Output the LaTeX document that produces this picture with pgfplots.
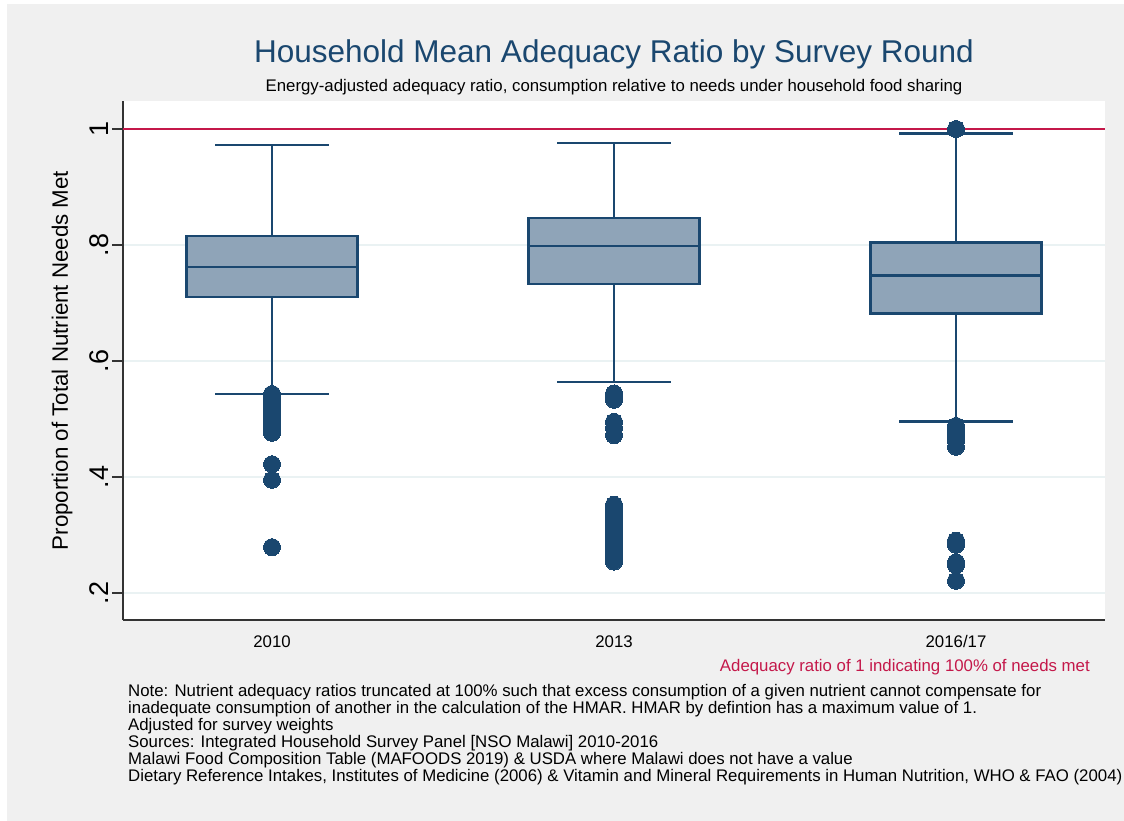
\documentclass[border=0pt]{standalone}
\usepackage{fontspec}
\setmainfont{Liberation Sans}
\usepackage{pgfplots}
\pgfplotsset{compat=1.18}
\usepgfplotslibrary{statistics}
\definecolor{bgc}{HTML}{F0F0F0}
\definecolor{navy}{HTML}{1A476F}
\definecolor{boxf}{HTML}{8FA4B8}
\definecolor{gridc}{HTML}{EAF2F3}
\definecolor{redc}{HTML}{C4184A}
\begin{document}
\begin{tikzpicture}
\useasboundingbox (0,0) rectangle (1124pt,821pt);
\fill[white] (0,0) rectangle (1124pt,821pt);
\fill[bgc] (7pt,0) rectangle (1124pt,817pt);
\begin{axis}[at={(123pt,201pt)}, anchor=south west, scale only axis,
  width=982pt, height=519pt,
  xmin=0.5643, xmax=3.4357, ymin=0.1534, ymax=1.0483,
  axis background/.style={fill=white},
  axis x line*=bottom, axis y line*=left,
  axis line style={color=black!80, line width=1.5pt},
  xtick={1,2,3}, xticklabels={2010,2013,2016/17}, x tick style={draw=none},
  ytick={0.2,0.4,0.6,0.8,1}, yticklabels={.2,.4,.6,.8,1},
  tick align=outside, major tick length=11pt,
  y tick style={color=black!80, line width=1.5pt},
  ymajorgrids, grid style={color=gridc, line width=2pt},
  /pgf/number format/assume math mode=true,
  yticklabel style={rotate=90, anchor=south, font=\fontsize{27}{27}\selectfont},
  xticklabel style={font=\fontsize{16.8}{17}\selectfont, yshift=-1pt},
  ylabel={Proportion of Total Nutrient Needs Met},
  ylabel style={font=\fontsize{22.3}{22.3}\selectfont, at={(axis description cs:-0.0621,0.5)}, anchor=center},
  boxplot/draw direction=y,
]
\addplot[redc, line width=2.5pt] coordinates {(0.5643,1) (3.4357,1)};

\addplot[boxplot prepared={draw position=1, median=0.762, upper quartile=0.8155,
   lower quartile=0.710, upper whisker=0.972, lower whisker=0.543,
   box extend=0.5, whisker extend=0.333},
  draw=navy, fill=boxf, line width=2.5pt, mark=*, mark size=8.5pt,
  mark options={draw=navy, fill=navy, line width=0pt}]
  table[row sep=\\, y index=0] {0.543\\ 0.538\\ 0.533\\ 0.528\\ 0.522\\ 0.516\\
   0.510\\ 0.503\\ 0.496\\ 0.488\\ 0.481\\ 0.476\\
   0.422\\ 0.395\\ 0.279\\};

\addplot[boxplot prepared={draw position=2, median=0.798, upper quartile=0.8466,
   lower quartile=0.733, upper whisker=0.976, lower whisker=0.564,
   box extend=0.5, whisker extend=0.333},
  draw=navy, fill=boxf, line width=2.5pt, mark=*, mark size=8.5pt,
  mark options={draw=navy, fill=navy, line width=0pt}]
  table[row sep=\\, y index=0] {0.544\\ 0.538\\ 0.533\\ 0.495\\ 0.485\\ 0.472\\
   0.352\\ 0.345\\ 0.338\\ 0.330\\ 0.322\\ 0.315\\ 0.307\\
   0.300\\ 0.292\\ 0.285\\ 0.278\\ 0.270\\ 0.262\\ 0.254\\};

\addplot[boxplot prepared={draw position=3, median=0.747, upper quartile=0.804,
   lower quartile=0.682, upper whisker=0.992, lower whisker=0.496,
   box extend=0.5, whisker extend=0.333},
  draw=navy, fill=boxf, line width=2.5pt, mark=*, mark size=8.5pt,
  mark options={draw=navy, fill=navy, line width=0pt}]
  table[row sep=\\, y index=0] {1.0\\ 0.488\\ 0.480\\ 0.471\\ 0.462\\ 0.452\\
   0.290\\ 0.283\\ 0.253\\ 0.248\\ 0.221\\};
\end{axis}
\node[anchor=base, inner sep=0pt, text=navy, font=\fontsize{31.5}{31.5}\selectfont] at (614pt,758pt) {Household Mean Adequacy Ratio by Survey Round};
\node[anchor=base, inner sep=0pt, font=\fontsize{16.8}{17}\selectfont] at (614pt,729pt) {Energy-adjusted adequacy ratio, consumption relative to needs under household food sharing};
\node[anchor=base east, inner sep=0pt, text=redc, font=\fontsize{16.8}{17}\selectfont] at (1090pt,149pt) {Adequacy ratio of 1 indicating 100\% of needs met};
\begin{scope}[every node/.style={anchor=base west, inner sep=0pt, font=\fontsize{16.8}{17}\selectfont}]
\node at (128pt,124pt) {Note: Nutrient adequacy ratios truncated at 100\% such that excess consumption of a given nutrient cannot compensate for};
\node at (128pt,107pt) {inadequate consumption of another in the calculation of the HMAR. HMAR by defintion has a maximum value of 1.};
\node at (128pt,90pt) {Adjusted for survey weights};
\node at (128pt,73pt) {Sources: Integrated Household Survey Panel [NSO Malawi] 2010-2016};
\node at (128pt,56pt) {Malawi Food Composition Table (MAFOODS 2019) \& USDA where Malawi does not have a value};
\node at (128pt,39pt) {Dietary Reference Intakes, Institutes of Medicine (2006) \& Vitamin and Mineral Requirements in Human Nutrition, WHO \& FAO (2004)};
\end{scope}
\end{tikzpicture}
\end{document}
